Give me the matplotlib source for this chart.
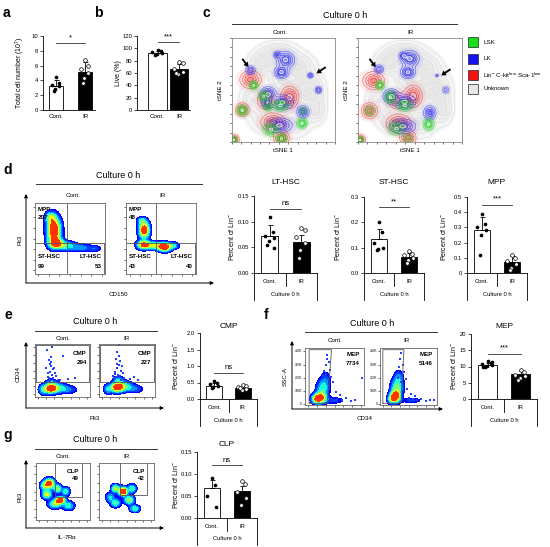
import numpy as np
import matplotlib.pyplot as plt
from matplotlib.lines import Line2D
from matplotlib.patches import Rectangle, FancyArrowPatch
from matplotlib.colors import to_rgba

plt.rcParams['font.family'] = ['Liberation Sans', 'DejaVu Sans']
plt.rcParams['mathtext.default'] = 'regular'

# ---------------- data ----------------
groups = ['Cont.', 'IR']

# a: total cell number
a_mean = [3.25, 5.2]
a_sd = [0.75, 1.3]
a_cont = [4.5, 3.6, 3.4, 3.2, 2.9, 2.6]
a_ir = [6.8, 6.0, 5.6, 5.0, 4.3, 3.7]

# b: live %
b_mean = [92, 66]
b_sd = [3, 8]
b_cont = [97, 95, 94, 92, 91, 90]
b_ir = [78, 76, 67, 62, 58, 60]

# d: LT-HSC / ST-HSC / MPP (percent of Lin-)
lt_mean = [0.072, 0.060]
lt_sd = [0.021, 0.015]
lt_cont = [0.110, 0.080, 0.072, 0.068, 0.062, 0.055, 0.048]
lt_ir = [0.088, 0.083, 0.070, 0.058, 0.045, 0.030]

st_mean = [0.133, 0.063]
st_sd = [0.039, 0.017]
st_cont = [0.200, 0.160, 0.120, 0.100, 0.095, 0.090]
st_ir = [0.085, 0.075, 0.070, 0.060, 0.050, 0.040]

mpp_mean = [0.28, 0.07]
mpp_sd = [0.09, 0.04]
mpp_cont = [0.39, 0.32, 0.30, 0.28, 0.25, 0.12]
mpp_ir = [0.12, 0.10, 0.08, 0.06, 0.03, 0.02]

# e: CMP
cmp_mean = [0.40, 0.33]
cmp_sd = [0.10, 0.07]
cmp_cont = [0.55, 0.50, 0.45, 0.40, 0.35, 0.32]
cmp_ir = [0.42, 0.38, 0.35, 0.30, 0.27, 0.33]

# f: MEP
mep_mean = [10.5, 7.6]
mep_sd = [0.7, 0.9]
mep_cont = [11.8, 11.2, 10.8, 10.5, 10.2, 9.8, 11.5, 10.0]
mep_ir = [9.0, 8.2, 7.5, 7.0, 6.5, 6.0]

# g: CLP
clp_mean = [0.068, 0.062]
clp_sd = [0.019, 0.010]
clp_cont = [0.090, 0.075, 0.050, 0.025]
clp_ir = [0.085, 0.078, 0.060, 0.045, 0.030]

# gate counts
d_counts_cont = ['207', '99', '53']
d_counts_ir = ['48', '43', '40']
cmp_counts = ['294', '227']
mep_counts = ['7734', '5146']
clp_counts = ['49', '42']

# c: tSNE clusters (x, y, sx, sy, amplitude)
tsne_gray = [(0.45, 0.85, 0.12, 0.07, 0.8), (0.28, 0.75, 0.08, 0.07, 0.7),
             (0.65, 0.72, 0.10, 0.08, 0.7), (0.78, 0.50, 0.08, 0.10, 0.7),
             (0.62, 0.50, 0.10, 0.08, 0.6), (0.20, 0.40, 0.08, 0.10, 0.6),
             (0.35, 0.20, 0.10, 0.08, 0.6), (0.60, 0.20, 0.10, 0.10, 0.6),
             (0.82, 0.30, 0.06, 0.08, 0.6), (0.45, 0.60, 0.08, 0.08, 0.5)]
cont_blue = [(0.52, 0.79, 0.05, 0.045, 1), (0.48, 0.67, 0.04, 0.035, 1),
             (0.44, 0.84, 0.022, 0.02, 0.7), (0.18, 0.69, 0.028, 0.025, 0.8),
             (0.76, 0.64, 0.018, 0.016, 0.7), (0.84, 0.50, 0.02, 0.02, 0.8),
             (0.35, 0.46, 0.045, 0.04, 1), (0.49, 0.38, 0.06, 0.04, 1),
             (0.69, 0.29, 0.035, 0.035, 0.9), (0.46, 0.16, 0.07, 0.04, 1),
             (0.34, 0.37, 0.03, 0.03, 0.8)]
cont_green = [(0.21, 0.545, 0.025, 0.025, 1), (0.31, 0.44, 0.03, 0.03, 1),
              (0.35, 0.34, 0.025, 0.025, 0.9), (0.47, 0.35, 0.045, 0.03, 1),
              (0.10, 0.305, 0.03, 0.03, 1), (0.68, 0.18, 0.03, 0.03, 1),
              (0.38, 0.12, 0.045, 0.035, 1), (0.48, 0.03, 0.03, 0.03, 1),
              (0.02, 0.02, 0.02, 0.02, 1), (0.69, 0.30, 0.02, 0.02, 0.6)]
cont_red = [(0.18, 0.60, 0.06, 0.05, 0.9), (0.56, 0.43, 0.05, 0.06, 1),
            (0.33, 0.40, 0.05, 0.05, 0.8), (0.10, 0.31, 0.04, 0.04, 0.8),
            (0.40, 0.19, 0.07, 0.05, 0.9), (0.48, 0.04, 0.045, 0.04, 0.9),
            (0.02, 0.02, 0.03, 0.03, 0.9)]
ir_blue = [(0.50, 0.80, 0.05, 0.045, 1), (0.48, 0.67, 0.04, 0.035, 1),
           (0.435, 0.83, 0.022, 0.02, 0.7), (0.20, 0.70, 0.028, 0.025, 0.8),
           (0.76, 0.64, 0.01, 0.01, 0.5), (0.845, 0.50, 0.022, 0.022, 0.5),
           (0.32, 0.44, 0.045, 0.04, 1), (0.45, 0.385, 0.06, 0.04, 1),
           (0.69, 0.28, 0.035, 0.04, 0.9), (0.43, 0.15, 0.07, 0.04, 1)]
ir_green = [(0.21, 0.545, 0.025, 0.025, 1), (0.31, 0.43, 0.03, 0.035, 1),
            (0.45, 0.35, 0.045, 0.03, 1), (0.11, 0.30, 0.03, 0.03, 0.6),
            (0.68, 0.17, 0.03, 0.035, 1), (0.37, 0.13, 0.045, 0.035, 1),
            (0.48, 0.03, 0.03, 0.03, 0.6), (0.02, 0.02, 0.02, 0.02, 1)]
ir_red = [(0.15, 0.59, 0.06, 0.05, 0.9), (0.53, 0.44, 0.05, 0.06, 1),
          (0.37, 0.40, 0.05, 0.05, 0.7), (0.11, 0.30, 0.045, 0.045, 0.9),
          (0.39, 0.18, 0.07, 0.05, 0.9), (0.48, 0.04, 0.045, 0.04, 0.9),
          (0.02, 0.02, 0.03, 0.03, 0.9)]
legend_names = ['LSK', 'LK', r'Lin$^{-}$ C-kit$^{low}$ Sca-1$^{low}$', 'Unknown']
legend_colors = ['#18e018', '#1414f0', '#f01414', '#e6e6e6']

# flow density components (x, y, sx, sy, amplitude)
d_cont = [(0.27, 0.62, 0.065, 0.12, 1.0), (0.22, 0.80, 0.05, 0.05, 0.4),
          (0.30, 0.43, 0.07, 0.05, 0.7), (0.45, 0.40, 0.08, 0.04, 0.4),
          (0.65, 0.37, 0.09, 0.035, 0.3), (0.85, 0.36, 0.06, 0.03, 0.2)]
d_ir = [(0.26, 0.62, 0.05, 0.08, 0.8), (0.22, 0.75, 0.04, 0.03, 0.3),
        (0.25, 0.41, 0.06, 0.04, 0.7), (0.40, 0.40, 0.07, 0.035, 0.5),
        (0.55, 0.38, 0.06, 0.04, 0.85), (0.68, 0.40, 0.05, 0.03, 0.3)]
e_cont = [(0.28, 0.16, 0.07, 0.06, 1.0), (0.42, 0.17, 0.10, 0.06, 0.5),
          (0.62, 0.14, 0.10, 0.05, 0.25), (0.14, 0.14, 0.05, 0.06, 0.4),
          (0.30, 0.28, 0.06, 0.04, 0.3)]
e_ir = [(0.32, 0.18, 0.07, 0.06, 1.0), (0.45, 0.20, 0.10, 0.06, 0.55),
        (0.65, 0.15, 0.10, 0.05, 0.25), (0.16, 0.15, 0.05, 0.06, 0.4),
        (0.35, 0.32, 0.06, 0.05, 0.35)]
e_cont_x = [0.22, 0.25, 0.27, 0.30, 0.32, 0.28, 0.35, 0.24, 0.31, 0.38, 0.26, 0.33,
            0.29, 0.36, 0.23, 0.41, 0.30, 0.27, 0.34, 0.45, 0.60, 0.72, 0.50, 0.20, 0.31]
e_cont_y = [0.88, 0.70, 0.62, 0.58, 0.52, 0.48, 0.55, 0.45, 0.42, 0.40, 0.36, 0.35,
            0.66, 0.46, 0.38, 0.33, 0.75, 0.31, 0.30, 0.32, 0.34, 0.36, 0.78, 0.55, 0.94]
e_ir_x = [0.35, 0.33, 0.30, 0.38, 0.36, 0.32, 0.40, 0.28, 0.42, 0.34, 0.37, 0.31,
          0.45, 0.27, 0.39, 0.55, 0.62, 0.33, 0.36, 0.29, 0.48, 0.70, 0.25, 0.41]
e_ir_y = [0.98, 0.85, 0.72, 0.68, 0.60, 0.55, 0.50, 0.48, 0.45, 0.42, 0.40, 0.38,
          0.36, 0.35, 0.33, 0.34, 0.37, 0.62, 0.78, 0.44, 0.30, 0.32, 0.40, 0.58]
f_cont = [(0.25, 0.12, 0.07, 0.06, 1.0), (0.30, 0.28, 0.07, 0.10, 0.5),
          (0.35, 0.45, 0.06, 0.10, 0.2), (0.50, 0.08, 0.12, 0.04, 0.2),
          (0.18, 0.10, 0.05, 0.05, 0.4)]
f_ir = [(0.27, 0.15, 0.06, 0.07, 1.0), (0.30, 0.32, 0.07, 0.10, 0.55),
        (0.33, 0.50, 0.05, 0.08, 0.25), (0.55, 0.08, 0.12, 0.03, 0.2),
        (0.20, 0.10, 0.05, 0.05, 0.4)]
f_cont_x = [0.38, 0.40, 0.35, 0.42, 0.36, 0.44, 0.33, 0.39, 0.47, 0.55, 0.62, 0.70,
            0.78, 0.85, 0.60, 0.52, 0.97, 0.41, 0.37, 0.30]
f_cont_y = [0.88, 0.75, 0.70, 0.62, 0.55, 0.50, 0.60, 0.45, 0.40, 0.10, 0.08, 0.12,
            0.07, 0.09, 0.18, 0.22, 0.48, 0.35, 0.80, 0.52]
f_ir_x = [0.37, 0.35, 0.40, 0.33, 0.42, 0.38, 0.45, 0.31, 0.50, 0.58, 0.65, 0.72,
          0.80, 0.88, 0.94, 0.55, 0.62, 0.36, 0.41, 0.47]
f_ir_y = [0.92, 0.80, 0.70, 0.66, 0.58, 0.52, 0.45, 0.48, 0.12, 0.10, 0.08, 0.11,
          0.07, 0.09, 0.08, 0.20, 0.15, 0.40, 0.35, 0.28]
ssc_ticks = ['0', '100K', '200K', '300K', '400K']
ssc_pos = [0.02, 0.25, 0.47, 0.71, 0.94]
g_cont = [(0.25, 0.64, 0.06, 0.06, 0.8), (0.20, 0.45, 0.06, 0.05, 0.6),
          (0.45, 0.35, 0.06, 0.04, 0.9), (0.35, 0.28, 0.08, 0.05, 0.5),
          (0.55, 0.50, 0.05, 0.05, 0.4), (0.60, 0.25, 0.07, 0.05, 0.4),
          (0.40, 0.55, 0.05, 0.05, 0.5), (0.15, 0.60, 0.05, 0.05, 0.4)]
g_ir = [(0.44, 0.50, 0.05, 0.05, 0.9), (0.30, 0.55, 0.05, 0.05, 0.5),
        (0.55, 0.35, 0.06, 0.05, 0.5), (0.30, 0.30, 0.06, 0.05, 0.4),
        (0.65, 0.20, 0.06, 0.04, 0.4), (0.20, 0.40, 0.05, 0.05, 0.3),
        (0.60, 0.55, 0.05, 0.05, 0.4)]

# ---------------- helpers ----------------
W, H = 550, 547
fig = plt.figure(figsize=(5.5, 5.47), dpi=100)
TICK_FS = 4.2
LAB_FS = 5


def rect(x0, y0, x1, y1):
    return [x0 / W, 1 - y1 / H, (x1 - x0) / W, (y1 - y0) / H]


def F(x, y):
    return (x / W, 1 - y / H)


def ftext(x, y, s, **kw):
    kw.setdefault('ha', 'center')
    kw.setdefault('va', 'center')
    fig.text(x / W, 1 - y / H, s, **kw)


def fline(x0, y0, x1, y1, lw=0.7):
    fig.add_artist(Line2D([x0 / W, x1 / W], [1 - y0 / H, 1 - y1 / H],
                          transform=fig.transFigure, color='#333333', lw=lw))


def farrow(x0, y0, x1, y1):
    fig.add_artist(FancyArrowPatch(F(x0, y0), F(x1, y1), transform=fig.transFigure,
                                   arrowstyle='-|>', mutation_scale=5, lw=0.7,
                                   color='black', shrinkA=0, shrinkB=0))


def field(comps, X, Y):
    Z = np.zeros_like(X)
    for x, y, sx, sy, a in comps:
        Z += a * np.exp(-((X - x) ** 2 / (2 * sx ** 2) + (Y - y) ** 2 / (2 * sy ** 2)))
    return Z


def bar_panel(r, ylim, ticks, tlabels, means, sds, cont, ir, sig, sig_y,
              title=None, title_y=None, multilevel=True, xlim=(-0.5, 1.5), width=0.55):
    x0, y0, x1, y1 = r
    ax = fig.add_axes(rect(*r))
    pos = [0, 1]
    ax.bar(pos, means, width, color=['white', 'black'], edgecolor='black', lw=0.6, zorder=1)
    for p, m, e in zip(pos, means, sds):
        ax.errorbar(p, m, yerr=[[0], [e]], fmt='none', ecolor='black', elinewidth=0.6,
                    capsize=1.8, capthick=0.6, zorder=2)
    oc = width * 0.28 * np.sin(np.arange(len(cont)) * 2.4)
    oi = width * 0.28 * np.sin(np.arange(len(ir)) * 2.4)
    ax.scatter(pos[0] + oc, cont, s=7, color='black', lw=0, zorder=3)
    ax.scatter(pos[1] + oi, ir, s=7, facecolor='white', edgecolor='black', lw=0.5, zorder=3)
    ax.plot(pos, [sig_y, sig_y], color='#333333', lw=0.6)
    ax.text(0.5, sig_y + (ylim[1] - ylim[0]) * 0.025, sig, ha='center', va='bottom', fontsize=5.5)
    for s in ['top', 'right']:
        ax.spines[s].set_visible(False)
    for s in ['left', 'bottom']:
        ax.spines[s].set_linewidth(0.6)
    ax.set_xlim(xlim)
    ax.set_ylim(ylim)
    ax.set_yticks(ticks)
    ax.set_yticklabels(tlabels, fontsize=TICK_FS)
    ax.tick_params(axis='y', length=2, width=0.5, pad=1.5)
    hpx = y1 - y0
    if multilevel:
        ax.set_xticks([])
        for xx, d in [(0, 27), (0.5, 13), (1, 27)]:
            ax.plot([xx, xx], [0, -d / hpx], transform=ax.transAxes, clip_on=False,
                    color='black', lw=0.6)
        ax.text(0.25, -8.5 / hpx, groups[0], transform=ax.transAxes, ha='center', va='center', fontsize=TICK_FS)
        ax.text(0.75, -8.5 / hpx, groups[1], transform=ax.transAxes, ha='center', va='center', fontsize=TICK_FS)
        ax.text(0.5, -21 / hpx, 'Culture 0 h', transform=ax.transAxes, ha='center', va='center', fontsize=TICK_FS)
    else:
        ax.set_xticks(pos)
        ax.set_xticklabels(groups, fontsize=TICK_FS + 0.3)
        ax.tick_params(axis='x', length=0, pad=3)
    if title:
        ftext((x0 + x1) / 2, title_y, title, fontsize=6)
    return ax


def flow_box(r, comps, px=None, py=None, lines=(), labels=()):
    ax = fig.add_axes(rect(*r))
    g = np.linspace(0, 1, 160)
    X, Y = np.meshgrid(g, g)
    Z = field(comps, X, Y)
    Z = Z / Z.max()
    ax.contourf(X, Y, Z, levels=[0.08, 0.14, 0.22, 0.32, 0.44, 0.56, 0.7, 1.01],
                cmap='jet', vmin=0.0, vmax=1.0)
    if px is not None:
        ax.scatter(px, py, s=0.8, marker='s', color='#2040ff', lw=0)
    for xs, ys in lines:
        ax.plot(xs, ys, color='#555555', lw=0.6)
    for x, y, s, ha in labels:
        ax.text(x, y, s, ha=ha, va='center', fontsize=4.5, fontweight='bold')
    ax.set_xlim(0, 1)
    ax.set_ylim(0, 1)
    for sp in ax.spines.values():
        sp.set_color('#666666')
        sp.set_linewidth(0.6)
    ax.set_xticks(np.linspace(0.05, 0.95, 7))
    ax.set_yticks(np.linspace(0.05, 0.95, 7))
    ax.tick_params(length=1.2, width=0.4, labelbottom=False, labelleft=False)
    return ax


def tsne_panel(r, blue, green, red, arrows):
    ax = fig.add_axes(rect(*r))
    g = np.linspace(0, 1, 220)
    X, Y = np.meshgrid(g, g)
    Zg = field(tsne_gray, X, Y)
    ax.contourf(X, Y, Zg, levels=[0.1, 0.3, 0.6, 5], colors=['#f6f6f6', '#efefef', '#e8e8e8'])
    ax.contour(X, Y, Zg, levels=[0.15, 0.3, 0.45, 0.6, 0.75, 0.9], colors='#d6d6d6', linewidths=0.3)
    for color, comps in [('#f03030', red), ('#2828f0', blue), ('#20d020', green)]:
        Z = field(comps, X, Y)
        ax.contourf(X, Y, Z, levels=[0.06, 0.2, 0.4, 0.6, 0.8, 5],
                    colors=[to_rgba(color, a) for a in (0.08, 0.14, 0.22, 0.35, 0.5)])
        ax.contour(X, Y, Z, levels=[0.2, 0.4, 0.6, 0.8], colors=[color], linewidths=0.4, alpha=0.6)
        ax.contour(X, Y, Z, levels=[0.93], colors='white', linewidths=0.5)
    for (xs, ys), (xe, ye) in arrows:
        ax.arrow(xs, ys, xe - xs, ye - ys, width=0.018, head_width=0.055, head_length=0.045,
                 length_includes_head=True, color='black', lw=0, zorder=5)
    ax.set_xlim(0, 1)
    ax.set_ylim(0, 1)
    for sp in ax.spines.values():
        sp.set_color('#888888')
        sp.set_linewidth(0.6)
    ax.set_xticks(np.linspace(0, 1, 12))
    ax.set_yticks(np.linspace(0, 1, 12))
    ax.tick_params(length=1.5, width=0.4, labelbottom=False, labelleft=False)
    return ax


# ---------------- a, b ----------------
ftext(6, 13, 'a', fontsize=10, fontweight='bold')
ftext(98, 13, 'b', fontsize=10, fontweight='bold')
bar_panel((43, 36, 95, 110), (0, 10), [0, 2, 4, 6, 8, 10], ['0', '2', '4', '6', '8', '10'],
          a_mean, a_sd, a_cont, a_ir, '*', 9.0, multilevel=False, xlim=(-0.45, 1.34), width=0.5)
ftext(20, 73, r'Total cell number (10$^{7}$)', fontsize=LAB_FS, rotation=90)
bar_panel((137, 36, 190, 110), (0, 120), list(range(0, 121, 20)), [str(v) for v in range(0, 121, 20)],
          b_mean, b_sd, b_cont, b_ir, '***', 110, multilevel=False, xlim=(-0.95, 1.5), width=0.85)
ftext(118, 73, 'Live (%)', fontsize=LAB_FS, rotation=90)

# ---------------- c ----------------
ftext(206, 13, 'c', fontsize=10, fontweight='bold')
ftext(345, 15, 'Culture 0 h', fontsize=6.5)
fline(232, 24, 457, 24)
ftext(280, 33, 'Cont.', fontsize=TICK_FS + 0.3)
ftext(410, 33, 'IR', fontsize=TICK_FS + 0.3)
tsne_panel((232, 38, 335, 142), cont_blue, cont_green, cont_red,
           [((0.10, 0.80), (0.16, 0.72)), ((0.91, 0.72), (0.82, 0.66))])
tsne_panel((358, 38, 462, 142), ir_blue, ir_green, ir_red,
           [((0.11, 0.80), (0.17, 0.72)), ((0.89, 0.70), (0.80, 0.64))])
for xc in (221, 346):
    ftext(xc, 90, 'tSNE 2', fontsize=TICK_FS + 0.3, rotation=90)
ftext(283, 150, 'tSNE 1', fontsize=TICK_FS + 0.3)
ftext(410, 150, 'tSNE 1', fontsize=TICK_FS + 0.3)
for i, (name, col) in enumerate(zip(legend_names, legend_colors)):
    yc = [42, 59, 75, 89][i]
    fig.add_artist(Rectangle((468 / W, 1 - (yc + 5) / H), 10 / W, 10 / H, transform=fig.transFigure,
                             facecolor=col, edgecolor='#222222', lw=0.5))
    ftext(483, yc, name, fontsize=TICK_FS + 0.3, ha='left')

# ---------------- d ----------------
ftext(8, 170, 'd', fontsize=10, fontweight='bold')
ftext(118, 175, 'Culture 0 h', fontsize=6.5)
fline(36, 184, 202, 184)
ftext(73, 195, 'Cont.', fontsize=TICK_FS + 0.3)
ftext(163, 195, 'IR', fontsize=TICK_FS + 0.3)
flow_box((35, 203, 105, 274), d_cont,
         lines=[([0.45, 0.45], [0, 1]), ([0, 0.98], [0.44, 0.44]), ([0.98, 0.98], [0, 0.44])],
         labels=[(0.04, 0.91, 'MPP', 'left'), (0.04, 0.79, d_counts_cont[0], 'left'),
                 (0.04, 0.24, 'ST-HSC', 'left'), (0.04, 0.10, d_counts_cont[1], 'left'),
                 (0.95, 0.24, 'LT-HSC', 'right'), (0.95, 0.10, d_counts_cont[2], 'right')])
flow_box((126, 203, 196, 274), d_ir,
         lines=[([0.43, 0.43], [0, 1]), ([0, 0.98], [0.44, 0.44]), ([0.98, 0.98], [0, 0.44])],
         labels=[(0.04, 0.91, 'MPP', 'left'), (0.04, 0.79, d_counts_ir[0], 'left'),
                 (0.04, 0.24, 'ST-HSC', 'left'), (0.04, 0.10, d_counts_ir[1], 'left'),
                 (0.95, 0.24, 'LT-HSC', 'right'), (0.95, 0.10, d_counts_ir[2], 'right')])
farrow(26, 283, 26, 194)
farrow(26, 283, 214, 283)
ftext(20, 240, 'Flt3', fontsize=TICK_FS + 0.3, rotation=90)
ftext(118, 294, 'CD150', fontsize=TICK_FS + 0.3)

bar_panel((254, 196, 317, 273), (0, 0.15), [0, 0.05, 0.10, 0.15], ['0.00', '0.05', '0.10', '0.15'],
          lt_mean, lt_sd, lt_cont, lt_ir, 'ns', 0.125, title='LT-HSC', title_y=183)
ftext(232, 237, r'Percent of Lin$^{-}$', fontsize=LAB_FS, rotation=90)
bar_panel((364, 197, 424, 273), (0, 0.3), [0, 0.1, 0.2, 0.3], ['0.0', '0.1', '0.2', '0.3'],
          st_mean, st_sd, st_cont, st_ir, '**', 0.26, title='ST-HSC', title_y=183)
ftext(337, 237, r'Percent of Lin$^{-}$', fontsize=LAB_FS, rotation=90)
bar_panel((467, 197, 527, 273), (0, 0.5), [0, 0.1, 0.2, 0.3, 0.4, 0.5],
          ['0', '0.1', '0.2', '0.3', '0.4', '0.5'],
          mpp_mean, mpp_sd, mpp_cont, mpp_ir, '***', 0.45, title='MPP', title_y=183)
ftext(443, 237, r'Percent of Lin$^{-}$', fontsize=LAB_FS, rotation=90)

# ---------------- e ----------------
ftext(8, 315, 'e', fontsize=10, fontweight='bold')
ftext(95, 321, 'Culture 0 h', fontsize=6.5)
fline(35, 331, 157, 331)
ftext(63, 339, 'Cont.', fontsize=TICK_FS + 0.3)
ftext(127, 339, 'IR', fontsize=TICK_FS + 0.3)
cmp_gate = [([0.02, 0.98, 0.98, 0.02, 0.02], [0.28, 0.28, 0.98, 0.98, 0.28])]
flow_box((35, 344, 90, 397), e_cont, e_cont_x, e_cont_y, lines=cmp_gate,
         labels=[(0.94, 0.82, 'CMP', 'right'), (0.94, 0.66, cmp_counts[0], 'right')])
flow_box((99, 344, 155, 397), e_ir, e_ir_x, e_ir_y, lines=cmp_gate,
         labels=[(0.94, 0.82, 'CMP', 'right'), (0.94, 0.66, cmp_counts[1], 'right')])
farrow(26, 408, 26, 342)
farrow(26, 408, 164, 408)
ftext(18, 374, 'CD34', fontsize=TICK_FS + 0.3, rotation=90)
ftext(95, 419, 'Flt3', fontsize=TICK_FS + 0.3)
bar_panel((200, 333, 257, 399), (0, 2.0), [0, 0.5, 1.0, 1.5, 2.0], ['0.0', '0.5', '1.0', '1.5', '2.0'],
          cmp_mean, cmp_sd, cmp_cont, cmp_ir, 'ns', 0.8, title='CMP', title_y=327)
ftext(176, 366, r'Percent of Lin$^{-}$', fontsize=LAB_FS, rotation=90)

# ---------------- f ----------------
ftext(266, 315, 'f', fontsize=10, fontweight='bold')
ftext(372, 323, 'Culture 0 h', fontsize=6.5)
fline(305, 332, 437, 332)
ftext(335, 341, 'Cont.', fontsize=TICK_FS + 0.3)
ftext(407, 341, 'IR', fontsize=TICK_FS + 0.3)
for r, comps, px, py, cnt, gate_x in [((305, 348, 364, 405), f_cont, f_cont_x, f_cont_y, mep_counts[0], (0.07, 0.45, 0.38)),
                                       ((380, 348, 437, 405), f_ir, f_ir_x, f_ir_y, mep_counts[1], (0.05, 0.42, 0.37))]:
    ax = flow_box(r, comps, px, py,
                  lines=[([gate_x[0], gate_x[0], gate_x[1], gate_x[2], gate_x[0]],
                          [0.03, 0.97, 0.97, 0.03, 0.03])],
                  labels=[(0.93, 0.88, 'MEP', 'right'), (0.93, 0.73, cnt, 'right')])
    ax.set_yticks(ssc_pos)
    for yp, lab in zip(ssc_pos, ssc_ticks):
        ax.text(-0.05, yp, lab, transform=ax.transAxes, ha='right', va='center', fontsize=2.3)
farrow(292, 409, 292, 341)
farrow(292, 409, 443, 409)
ftext(285, 377, 'SSC-A', fontsize=TICK_FS + 0.3, rotation=90)
ftext(365, 419, 'CD34', fontsize=TICK_FS + 0.3)
bar_panel((471, 334, 537, 399), (0, 20), [0, 5, 10, 15, 20], ['0', '5', '10', '15', '20'],
          mep_mean, mep_sd, mep_cont, mep_ir, '***', 14, title='MEP', title_y=326)
ftext(454, 366, r'Percent of Lin$^{-}$', fontsize=LAB_FS, rotation=90)

# ---------------- g ----------------
ftext(8, 435, 'g', fontsize=10, fontweight='bold')
ftext(95, 439, 'Culture 0 h', fontsize=6.5)
fline(35, 449, 157, 449)
ftext(63, 457, 'Cont.', fontsize=TICK_FS + 0.3)
ftext(127, 457, 'IR', fontsize=TICK_FS + 0.3)
flow_box((36, 463, 90, 520), g_cont,
         lines=[([0.35, 0.35, 0.85, 0.85], [1.0, 0.41, 0.41, 1.0])],
         labels=[(0.80, 0.85, 'CLP', 'right'), (0.80, 0.72, clp_counts[0], 'right')])
flow_box((99, 463, 154, 520), g_ir,
         lines=[([0.38, 0.38, 0.87, 0.87], [1.0, 0.44, 0.44, 1.0])],
         labels=[(0.83, 0.85, 'CLP', 'right'), (0.83, 0.72, clp_counts[1], 'right')])
farrow(26, 528, 26, 460)
farrow(26, 528, 164, 528)
ftext(20, 497, 'Flt3', fontsize=TICK_FS + 0.3, rotation=90)
ftext(67, 537, r'IL-7R$\alpha$', fontsize=TICK_FS + 0.3)
bar_panel((197, 452, 257, 518), (0, 0.15), [0, 0.05, 0.10, 0.15], ['0.00', '0.05', '0.10', '0.15'],
          clp_mean, clp_sd, clp_cont, clp_ir, 'ns', 0.12, title='CLP', title_y=444)
ftext(176, 485, r'Percent of Lin$^{-}$', fontsize=LAB_FS, rotation=90)

fig.savefig('out.png', dpi=100)
